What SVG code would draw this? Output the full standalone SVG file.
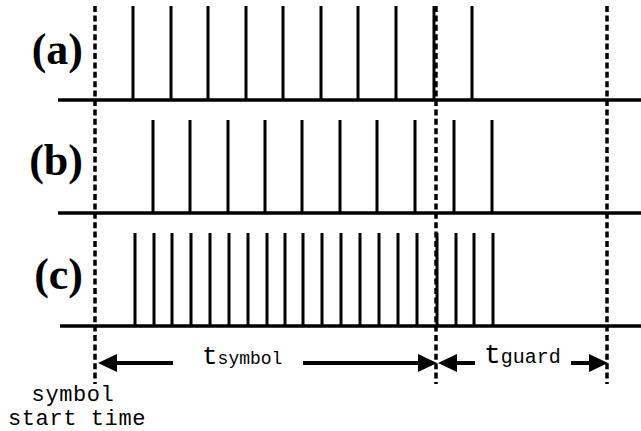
<svg xmlns="http://www.w3.org/2000/svg" width="641" height="431" viewBox="0 0 641 431">
<style>
.base{stroke:#000;stroke-width:3.5;fill:none}
.spike{stroke:#000;stroke-width:3;fill:none}
.dash{stroke:#000;stroke-width:3.5;stroke-dasharray:6 3.4;fill:none}
.arr{stroke:#000;stroke-width:4;fill:none;marker-end:url(#head)}
.lbl{font-family:"Liberation Serif","Times New Roman",serif;font-weight:bold;font-size:44px;fill:#000;text-anchor:end}
.mono{font-family:"Liberation Mono","Courier New",monospace;fill:#000}
</style>
<defs>
<marker id="head" viewBox="0 -9 19 18" refX="0" refY="0" markerWidth="19" markerHeight="18" markerUnits="userSpaceOnUse" orient="auto">
<path d="M0,-9 L19,0 L0,9 z" fill="#000"/>
</marker>
</defs>
<rect width="641" height="431" fill="#fff"/>
<g id="row-a">
<line class="base" x1="58" y1="100" x2="641" y2="100"/>
<path class="spike" d="M133,6V100M171,6V100M208,6V100M246,6V100M283,6V100M321,6V100M358,6V100M396,6V100M434,6V100M472,6V100"/>
<text class="lbl" x="83" y="64">(a)</text>
</g>
<g id="row-b">
<line class="base" x1="58" y1="213" x2="641" y2="213"/>
<path class="spike" d="M153,120V213M190,120V213M228,120V213M265,120V213M302,120V213M340,120V213M377,120V213M415,120V213M454,120V213M492,120V213"/>
<text class="lbl" x="83" y="175">(b)</text>
</g>
<g id="row-c">
<line class="base" x1="60" y1="326" x2="641" y2="326"/>
<path class="spike" d="M135,233V326M154,233V326M172,233V326M191,233V326M210,233V326M229,233V326M248,233V326M267,233V326M285,233V326M303,233V326M322,233V326M341,233V326M360,233V326M379,233V326M398,233V326M417,233V326M437,233V326M456,233V326M474,233V326M493,233V326"/>
<text class="lbl" x="83" y="289">(c)</text>
</g>
<g id="markers">
<line class="dash" x1="95" y1="6" x2="95" y2="384"/>
<line class="dash" x1="436" y1="6" x2="436" y2="384"/>
<line class="dash" x1="607" y1="6" x2="607" y2="384"/>
</g>
<g id="connectors">
<line class="arr" x1="173" y1="363" x2="117" y2="363"/>
<line class="arr" x1="303" y1="363" x2="418" y2="363"/>
<line class="arr" x1="475" y1="363" x2="457" y2="363"/>
<line class="arr" x1="571" y1="363" x2="589" y2="363"/>
</g>
<g id="t-symbol">
<text class="mono" x="202" y="364"><tspan font-size="26">t</tspan><tspan font-size="18">symbol</tspan></text>
</g>
<g id="t-guard">
<text class="mono" x="484" y="363"><tspan font-size="28">t</tspan><tspan font-size="20">guard</tspan></text>
</g>
<g id="start-label">
<text class="mono" font-size="22" x="73" y="401" text-anchor="middle" letter-spacing="0.6">symbol</text>
<text class="mono" font-size="22" x="77" y="425" text-anchor="middle" letter-spacing="0.6">start time</text>
</g>
</svg>
